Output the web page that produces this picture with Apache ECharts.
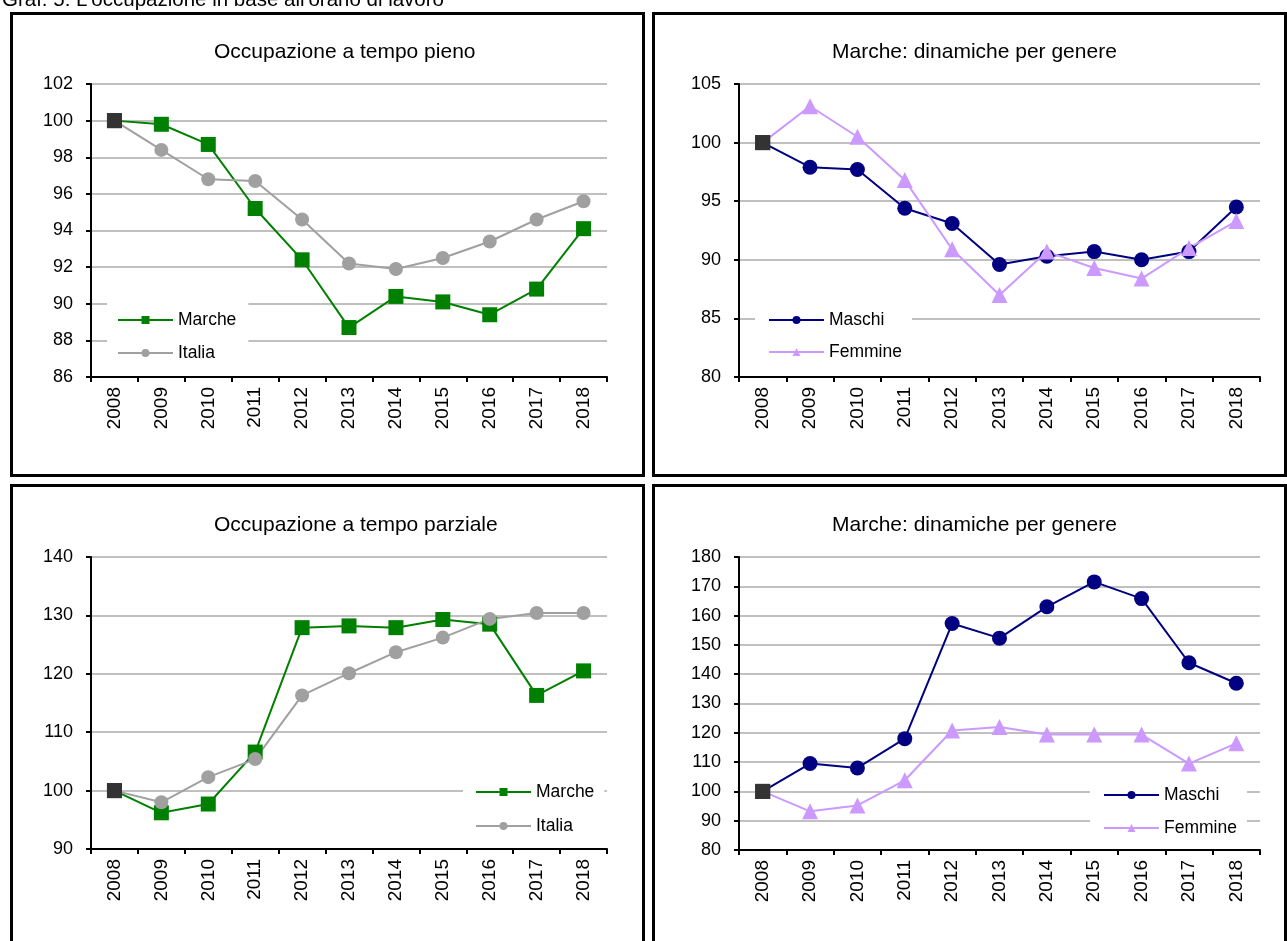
<!DOCTYPE html>
<html>
<head>
<meta charset="utf-8">
<title>Graf. 5: L'occupazione in base all'orario di lavoro</title>
<script src="https://cdn.jsdelivr.net/npm/echarts@6/dist/echarts.min.js"></script>
<style>
  html, body { margin: 0; padding: 0; background: #ffffff; }
  #chart { width: 1287px; height: 941px; }
</style>
</head>
<body>
<div id="chart"></div>
<script>
// Years on the category axis (shared by all four panels)
const years = ['2008', '2009', '2010', '2011', '2012', '2013', '2014', '2015', '2016', '2017', '2018'];

// Full-time employment, index 2008 = 100
const pienoMarche = [100, 99.8, 98.7, 95.2, 92.4, 88.7, 90.4, 90.1, 89.4, 90.8, 94.1];
const pienoItalia = [100, 98.4, 96.8, 96.7, 94.6, 92.2, 91.9, 92.5, 93.4, 94.6, 95.6];
// Full-time employment in Marche by gender
const pienoMaschi = [100, 97.9, 97.7, 94.4, 93.1, 89.6, 90.3, 90.7, 90.0, 90.7, 94.5];
const pienoFemmine = [100, 103.1, 100.5, 96.8, 90.9, 87.0, 90.7, 89.3, 88.4, 91.0, 93.3];

// Part-time employment, index 2008 = 100
const parzialeMarche = [100, 96.2, 97.7, 106.6, 127.9, 128.2, 127.9, 129.3, 128.5, 116.3, 120.5];
const parzialeItalia = [100, 98.0, 102.3, 105.4, 116.3, 120.1, 123.7, 126.2, 129.4, 130.4, 130.4];
// Part-time employment in Marche by gender
const parzialeMaschi = [100, 109.5, 108.0, 118.0, 157.3, 152.3, 163.0, 171.5, 165.8, 143.9, 136.9];
const parzialeFemmine = [100, 93.2, 95.2, 103.8, 120.8, 122.0, 119.4, 119.4, 119.4, 109.5, 116.4];

// Panel titles and series names
const heading = "Graf. 5: L'occupazione in base all'orario di lavoro";
const titles = ['Occupazione a tempo pieno', 'Marche: dinamiche per genere',
                'Occupazione a tempo parziale', 'Marche: dinamiche per genere'];
const areaNames = ['Marche', 'Italia'];
const genderNames = ['Maschi', 'Femmine'];

// Y axis ranges [min, max, interval] for each panel
const yRanges = [[86, 102, 2], [80, 105, 5], [90, 140, 10], [80, 180, 10]];

const FONT = '"Liberation Sans", Arial, Helvetica, sans-serif';
const COLORS = { marche: '#008000', italia: '#a0a0a0', maschi: '#000080', femmine: '#cc99ff', base: '#333333' };

// Plot rectangles of the four panels
const grids = [
  { left: 91,  top: 84,  width: 516, height: 293 },
  { left: 739, top: 84,  width: 521, height: 293 },
  { left: 91,  top: 557, width: 516, height: 292 },
  { left: 739, top: 557, width: 521, height: 293 }
];

// The base year is drawn as a dark square on every line
function withBase(values) {
  return values.map(function (v, i) {
    if (i === 0) {
      return { value: v, symbol: 'rect', symbolSize: 15, itemStyle: { color: COLORS.base } };
    }
    return v;
  });
}

function xAxisFor(i) {
  return {
    type: 'category', gridIndex: i, data: years, boundaryGap: true,
    axisLine: { lineStyle: { color: '#000', width: 2 } },
    axisTick: { show: true, length: 5, lineStyle: { color: '#000', width: 2 } },
    axisLabel: { rotate: 90, margin: 10, fontSize: 19, color: '#000', fontFamily: FONT, interval: 0 },
    splitLine: { show: false }
  };
}

function yAxisFor(i) {
  const r = yRanges[i];
  return {
    type: 'value', gridIndex: i, min: r[0], max: r[1], interval: r[2],
    axisLine: { show: true, lineStyle: { color: '#000', width: 2 } },
    axisTick: { show: true, length: 5, lineStyle: { color: '#000', width: 2 } },
    axisLabel: { margin: 18, fontSize: 18, color: '#000', fontFamily: FONT },
    splitLine: { show: true, lineStyle: { color: '#c0c0c0', width: 2 } }
  };
}

function lineSeries(name, values, idx, color, symbol, size) {
  return {
    name: name, type: 'line', xAxisIndex: idx, yAxisIndex: idx,
    data: withBase(values),
    symbol: symbol, symbolSize: size, showSymbol: true, showAllSymbol: true,
    lineStyle: { color: color, width: 2 },
    itemStyle: { color: color },
    emphasis: { disabled: true },
    silent: true, z: 3
  };
}

function legendFor(names, left, top, padding, gap) {
  return {
    data: names, orient: 'vertical', left: left, top: top,
    padding: padding, itemGap: gap, itemWidth: 55, itemHeight: 10,
    backgroundColor: '#ffffff', selectedMode: false,
    textStyle: { fontSize: 17.5, color: '#000', fontFamily: FONT, lineHeight: 20 },
    z: 5
  };
}

const legends = [
  legendFor(areaNames, 107, 286, [24, 12, 8, 10], 13),
  legendFor(genderNames, 755, 286, [24, 10, 8, 13], 12),
  legendFor(areaNames, 463, 770, [12, 10, 8, 12], 14),
  legendFor(genderNames, 1090, 776, [9, 10, 8, 13], 13)
];

// Each legend only lists the series of its own panel (names repeat across panels)
const series = [
  lineSeries(areaNames[0], pienoMarche, 0, COLORS.marche, 'rect', 15),
  lineSeries(areaNames[1], pienoItalia, 0, COLORS.italia, 'circle', 14),
  lineSeries(genderNames[0], pienoMaschi, 1, COLORS.maschi, 'circle', 15),
  lineSeries(genderNames[1], pienoFemmine, 1, COLORS.femmine, 'triangle', 16),
  lineSeries(areaNames[0], parzialeMarche, 2, COLORS.marche, 'rect', 15),
  lineSeries(areaNames[1], parzialeItalia, 2, COLORS.italia, 'circle', 14),
  lineSeries(genderNames[0], parzialeMaschi, 3, COLORS.maschi, 'circle', 15),
  lineSeries(genderNames[1], parzialeFemmine, 3, COLORS.femmine, 'triangle', 16)
];

// Panel frames, heading and panel titles
const frames = [
  { x: 11.5, y: 13.5, w: 632, h: 462 },
  { x: 653.5, y: 13.5, w: 632, h: 462 },
  { x: 11.5, y: 485.5, w: 632, h: 470 },
  { x: 653.5, y: 485.5, w: 632, h: 470 }
];
const titlePos = [[214, 52], [832, 52], [214, 525], [832, 525]];

const graphics = [];
frames.forEach(function (f) {
  graphics.push({
    type: 'rect', shape: { x: f.x, y: f.y, width: f.w, height: f.h },
    style: { fill: null, stroke: '#000', lineWidth: 3 }, silent: true, z: 10
  });
});
graphics.push({
  type: 'text', x: 2, y: 0,
  style: { text: heading, fontSize: 20.5, fontFamily: FONT, fill: '#000', align: 'left', verticalAlign: 'middle' },
  silent: true, z: 10
});
titles.forEach(function (t, i) {
  graphics.push({
    type: 'text', x: titlePos[i][0], y: titlePos[i][1],
    style: { text: t, fontSize: 21, fontFamily: FONT, fill: '#000', align: 'left', verticalAlign: 'middle' },
    silent: true, z: 10
  });
});

const chart = echarts.init(document.getElementById('chart'), null, { renderer: 'canvas' });
chart.setOption({
  animation: false,
  backgroundColor: '#ffffff',
  textStyle: { fontFamily: FONT },
  grid: grids,
  xAxis: [0, 1, 2, 3].map(xAxisFor),
  yAxis: [0, 1, 2, 3].map(yAxisFor),
  legend: legends,
  series: series,
  graphic: graphics
});
</script>
</body>
</html>
